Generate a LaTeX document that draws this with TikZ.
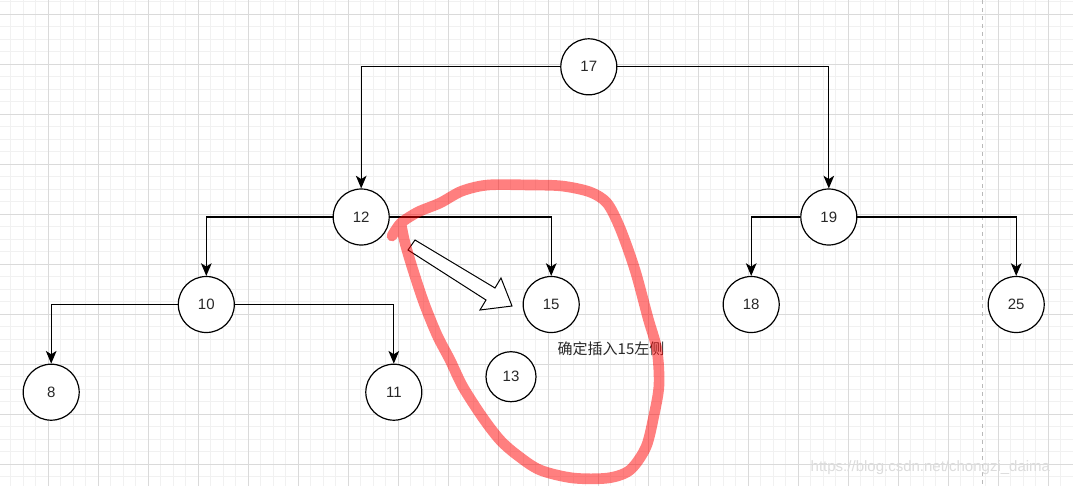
\documentclass[tikz,border=0pt]{standalone}
\usepackage{fontspec}
\setmainfont{Liberation Sans}
\newfontfamily\cjkfont{Noto Sans CJK SC}
\usepackage{xcolor}
\usepackage{tikz}
\usetikzlibrary{arrows.meta}
\definecolor{GridMinor}{RGB}{241, 241, 241}
\definecolor{GridMajor}{RGB}{218, 218, 218}
\definecolor{PageDash}{RGB}{185, 185, 185}
\definecolor{PenRed}{RGB}{255, 0, 0}
\definecolor{NodeText}{RGB}{40, 40, 40}
\definecolor{MarkGray}{RGB}{220, 220, 220}
\tikzset{
  treenode/.style={circle, draw=black, line width=0.9pt, fill=white,
    minimum size=42pt, inner sep=0pt, text=NodeText,
    font=\fontsize{11.25}{13}\selectfont},
  treeedge/.style={draw=black, line width=0.9pt,
    -{Stealth[length=9.5pt, width=8pt, inset=2.5pt]}}
}

\begin{document}
\begin{tikzpicture}[x=0.75pt, y=-0.75pt]
        \useasboundingbox (0,0) rectangle (1073,486);
        \fill[white] (0,0) rectangle (1073,486);
        \foreach \i in {0,...,85}
          \draw[GridMinor, line width=0.75pt] ({10.8+12.5*\i},0) -- ++(0,486);
        \foreach \j in {0,...,38}
          \draw[GridMinor, line width=0.75pt] (0,{1.8+12.5*\j}) -- ++(1073,0);
        \foreach \i in {0,...,20}
          \draw[GridMajor, line width=0.75pt] ({48.3+50*\i},0) -- ++(0,486);
        \foreach \j in {0,...,9}
          \draw[GridMajor, line width=0.75pt] (0,{14.3+50*\j}) -- ++(1073,0);
        \draw[PageDash, line width=0.75pt, dash pattern=on 3pt off 3pt] (982.3,0) -- (982.3,486);

        \node[treenode] (n17) at (588.8,66.8) {17};
        \node[treenode] (n12) at (361.2,217) {12};
        \node[treenode] (n19) at (828.8,217) {19};
        \node[treenode] (n10) at (206.3,304.5) {10};
        \node[treenode] (n15) at (551.2,304.5) {15};
        \node[treenode] (n18) at (751.2,304.5) {18};
        \node[treenode] (n25) at (1016.2,304.5) {25};
        \node[treenode] (n8) at (51.2,392.2) {8};
        \node[treenode] (n11) at (393.8,392.2) {11};
        \node[treenode, minimum size=37.5pt] (n13) at (511,376.7) {13};

        \draw[treeedge] (n17.west) -| (n12.north);
        \draw[treeedge] (n17.east) -| (n19.north);
        \draw[treeedge] (n12.west) -| (n10.north);
        \draw[treeedge] (n12.east) -| (n15.north);
        \draw[treeedge] (n10.west) -| (n8.north);
        \draw[treeedge] (n10.east) -| (n11.north);
        \draw[treeedge] (n19.west) -| (n18.north);
        \draw[treeedge] (n19.east) -| (n25.north);

        \node[anchor=west, text=NodeText, font=\cjkfont\fontsize{11.25}{13}\selectfont]
          (hint) at (553,349) {确定插入15左侧};

        \draw[line width=0.75pt, fill=white, line join=miter]
          (415,240) -- (495,288) -- (501,278) -- (512,306) -- (480,310)
          -- (486,300) -- (408,250) -- cycle;

        \draw[PenRed, opacity=0.5, line width=8pt, line cap=round, line join=round]
          plot[smooth, tension=0.5] coordinates {
            (392,236) (401,223) (418,212) (440,203) (462,191) (488,185)
            (530,185) (562,186) (590,192) (607,203) (620,228) (635,270)
            (648,318) (657,350) (659,385) (654,415) (646,447) (630,470)
            (608,478) (573,478) (540,470) (517,455) (500,440) (483,418)
            (463,387) (450,360) (437,335) (424,303) (413,270) (405,243)
            (401,224)};

        \node[anchor=west, text=MarkGray, font=\fontsize{11.25}{13}\selectfont]
          (mark) at (806,468) {https://blog.csdn.net/chongzi\_daima};
      \end{tikzpicture}
\end{document}
